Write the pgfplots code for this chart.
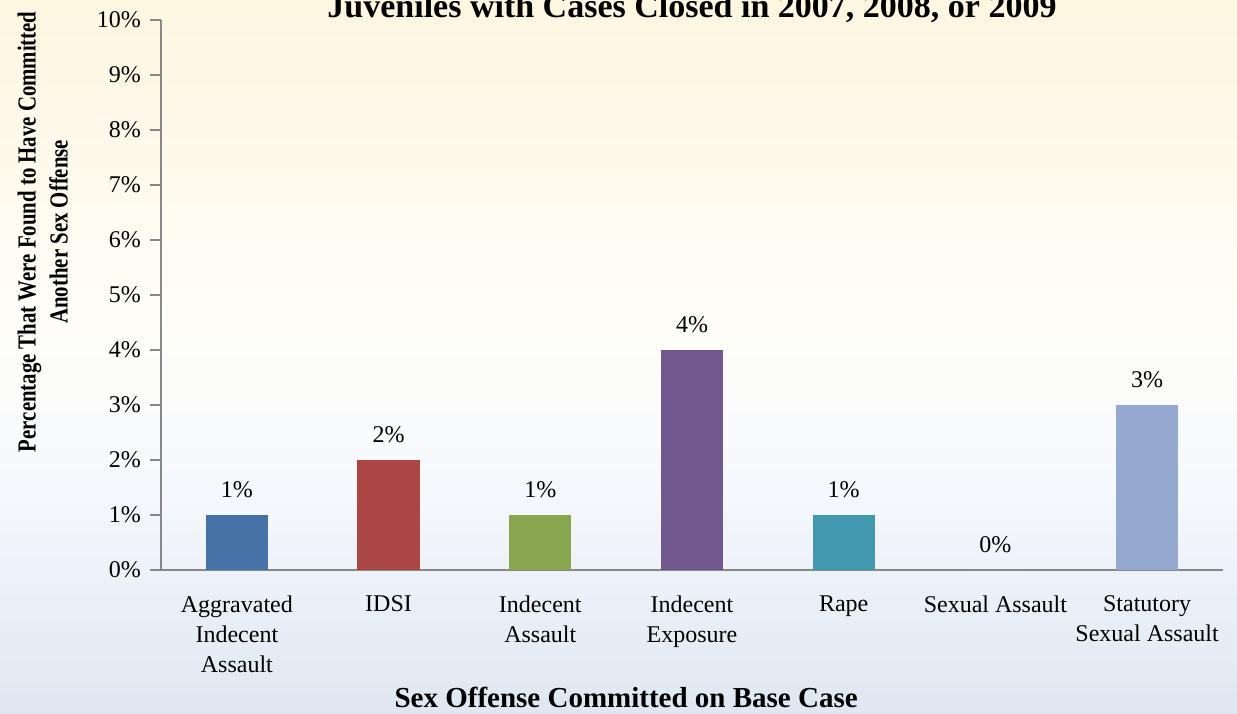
\documentclass[border=0pt]{standalone}
\usepackage{pgfplots}
\pgfplotsset{compat=1.18}
\usepackage{fontspec}
\setmainfont{Liberation Serif}
\newfontfamily\condfont{Liberation Serif}[FakeStretch=0.8]

\definecolor{axgray}{RGB}{135,135,135}
\definecolor{cblue}{RGB}{69,114,167}
\definecolor{cred}{RGB}{170,70,67}
\definecolor{cgreen}{RGB}{137,165,78}
\definecolor{cpurple}{RGB}{113,88,143}
\definecolor{cteal}{RGB}{65,152,175}
\definecolor{clight}{RGB}{147,169,207}

\pgfdeclareverticalshading{slidebg}{100bp}{
  rgb(0bp)=(0.725,0.800,0.875);
  rgb(40bp)=(0.960,0.972,0.990);
  rgb(52bp)=(0.996,0.994,0.975);
  rgb(100bp)=(0.988,0.930,0.775)}

\begin{document}
\begin{tikzpicture}
\path[use as bounding box] (0,0) rectangle (618.5pt,356.5pt);
\shade[shading=slidebg] (0,0) rectangle (618.5pt,356.5pt);
\begin{axis}[
    at={(80.5pt,71.5pt)}, anchor=south west,
    scale only axis, width=531pt, height=275pt,
    ybar, bar width=0.41,
    xmin=-0.5, xmax=6.5, ymin=0, ymax=10,
    axis lines*=left,
    axis line style={axgray, line width=1pt},
    xtick={0,...,6},
    xticklabels={Aggravated\\Indecent\\Assault, IDSI, Indecent\\Assault, Indecent\\Exposure, Rape, Sexual Assault, Statutory\\Sexual Assault},
    x tick style={draw=none},
    xticklabel style={align=center, anchor=north, yshift=-4pt, font=\fontsize{12pt}{15pt}\selectfont},
    ytick={0,...,10},
    yticklabel={\pgfmathprintnumber{\tick}\%},
    yticklabel style={font=\fontsize{12pt}{14pt}\selectfont, xshift=-1pt},
    /pgf/number format/assume math mode=true,
    y tick style={axgray, line width=1pt},
    tick align=outside, major tick length=5.5pt,
    title={Juveniles with Cases Closed in 2007, 2008, or 2009},
    title style={at={(axis description cs:0.5,1)}, anchor=base, yshift=-5pt, font=\fontsize{17pt}{20pt}\selectfont\bfseries},
    xlabel={Sex Offense Committed on Base Case},
    xlabel style={at={(axis description cs:0.438,0)}, anchor=base, yshift=-68.5pt, font=\fontsize{14.5pt}{17pt}\selectfont\bfseries},
    ylabel={Percentage That Were Found to Have Committed\\Another Sex Offense},
    ylabel style={at={(axis description cs:-0.081,0.615)}, anchor=south, align=center, font=\fontsize{13pt}{16pt}\condfont\bfseries},
    nodes near coords={\pgfmathprintnumber{\pgfplotspointmeta}\%},
    every node near coord/.append style={font=\fontsize{12pt}{14pt}\selectfont, black, yshift=5pt},
]
\addplot[fill=cblue, draw=none, bar shift=0pt] coordinates {(0,1)};
\addplot[fill=cred, draw=none, bar shift=0pt] coordinates {(1,2)};
\addplot[fill=cgreen, draw=none, bar shift=0pt] coordinates {(2,1)};
\addplot[fill=cpurple, draw=none, bar shift=0pt] coordinates {(3,4)};
\addplot[fill=cteal, draw=none, bar shift=0pt] coordinates {(4,1)};
\addplot[fill=cteal, draw=none, bar shift=0pt] coordinates {(5,0)};
\addplot[fill=clight, draw=none, bar shift=0pt] coordinates {(6,3)};
\end{axis}
\end{tikzpicture}
\end{document}
